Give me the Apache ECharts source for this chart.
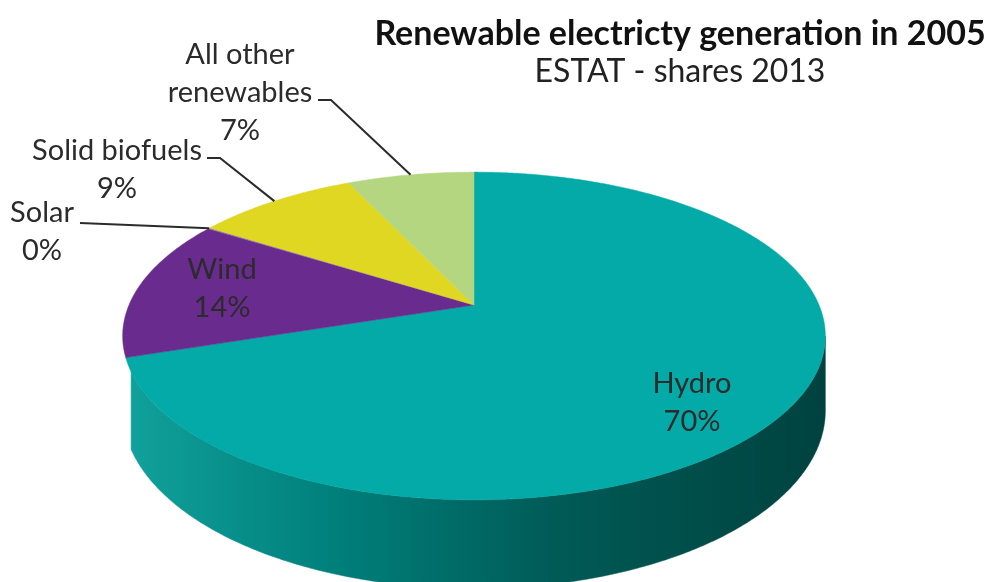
<!DOCTYPE html>
<html><head><meta charset="utf-8">
<script src="https://cdn.jsdelivr.net/npm/echarts@6/dist/echarts.min.js"></script>
<style>html,body{margin:0;padding:0;background:#fff}#chart{width:988px;height:582px}</style>
</head><body><div id="chart"></div>
<script>
// ---- data ----
const categories = ['Hydro', 'Wind', 'Solar', 'Solid biofuels', 'All other renewables'];
const labelNames = ['Hydro', 'Wind', 'Solar', 'Solid biofuels', 'All other\nrenewables'];
const values = [70, 14, 0.1, 9, 7];
const titleText = 'Renewable electricty generation in 2005';
const subtitleText = 'ESTAT - shares 2013';

// ---- styles ----
const topColors = ['#03aaa7', '#6a2b8f', '#8d74b3', '#dfd722', '#b5d681'];
const sideColors = [null, '#46195f', '#4f3c6e', '#9a9418', '#7d9a58'];
const hydroSide = new echarts.graphic.LinearGradient(125, 0, 825, 0, [
  {offset: 0, color: '#11a19c'}, {offset: 0.3, color: '#007f7b'},
  {offset: 0.62, color: '#005a56'}, {offset: 1, color: '#00423f'}], true);

// label placement (positions of text blocks and leader elbows)
const labelLayout = [
  {x: 692, y: 403},
  {x: 222, y: 289},
  {x: 42, y: 232, line: [[80, 223]]},
  {x: 117, y: 170, line: [[207, 158], [220, 158]]},
  {x: 240, y: 93, line: [[318, 100], [331, 100]]}
];

// ---- pie geometry (perspective tilted disc) ----
const G = {cx: 474, cy: 305, A: 345, B: 158, k: 0.189, H: 72, wallFrom: -157, wallTo: -11};
const total = values.reduce((a, b) => a + b, 0);
const startDeg = [], endDeg = [];
let acc = 0;
values.forEach(v => { startDeg.push(90 - acc / total * 360); acc += v; endDeg.push(90 - acc / total * 360); });
const rad = d => d * Math.PI / 180;
function proj(deg, r, drop) {
  const t = rad(deg), s = Math.sin(t), c = Math.cos(t);
  const d = 1 + G.k * r * s;
  return [G.cx + G.A * r * c / d, G.cy - G.B * r * s / d + (drop ? G.H / d : 0)];
}
function arc(a0, a1, drop) {
  const n = Math.max(2, Math.ceil(Math.abs(a1 - a0) / 0.5));
  const pts = [];
  for (let j = 0; j <= n; j++) pts.push(proj(a0 + (a1 - a0) * j / n, 1, drop));
  return pts;
}
const seriesData = values.map((v, i) => [i, v]);

const chart = echarts.init(document.getElementById('chart'));
chart.setOption({
  animation: false,
  backgroundColor: '#ffffff',
  title: {
    text: titleText, subtext: subtitleText,
    left: 675, top: 12, textAlign: 'center', itemGap: 5,
    textStyle: {fontFamily: 'Lato', fontWeight: 'bold', fontSize: 34, color: '#111'},
    subtextStyle: {fontFamily: 'Lato', fontSize: 32, color: '#222'}
  },
  series: [
    { // side walls
      type: 'custom', name: 'side', coordinateSystem: 'none', z: 1, data: seriesData,
      renderItem: function (params, api) {
        const i = api.value(0);
        const hi = Math.min(startDeg[i], G.wallTo), lo = Math.max(endDeg[i], G.wallFrom);
        if (lo >= hi) return {type: 'group', children: []};
        const pts = arc(hi, lo, false).concat(arc(lo, hi, true));
        const fill = i === 0 ? hydroSide : sideColors[i];
        return {type: 'polygon', shape: {points: pts}, style: {fill: fill, stroke: fill, lineWidth: 0.5}};
      }
    },
    { // top faces
      type: 'custom', name: 'top', coordinateSystem: 'none', z: 2, data: seriesData,
      renderItem: function (params, api) {
        const i = api.value(0);
        const pts = [proj(0, 0, false)].concat(arc(startDeg[i], endDeg[i], false));
        return {type: 'polygon', shape: {points: pts}, style: {fill: topColors[i], stroke: topColors[i], lineWidth: 0.5}};
      }
    },
    { // labels
      type: 'custom', name: 'labels', coordinateSystem: 'none', z: 3, data: seriesData,
      renderItem: function (params, api) {
        const i = api.value(0);
        const L = labelLayout[i];
        const pct = Math.round(api.value(1) / total * 100);
        const children = [{
          type: 'text',
          style: {
            text: labelNames[i] + '\n' + pct + '%', x: L.x, y: L.y,
            align: 'center', verticalAlign: 'middle', lineHeight: 38,
            fontFamily: 'Lato', fontSize: 29, fill: '#2b2b2b'
          }
        }];
        if (L.line) {
          const mid = (startDeg[i] + endDeg[i]) / 2;
          const pts = L.line.concat([proj(mid, 1, false)]);
          children.push({type: 'polyline', shape: {points: pts}, style: {stroke: '#2b2b2b', lineWidth: 2, fill: null}});
        }
        return {type: 'group', children: children};
      }
    }
  ]
});
</script></body></html>
